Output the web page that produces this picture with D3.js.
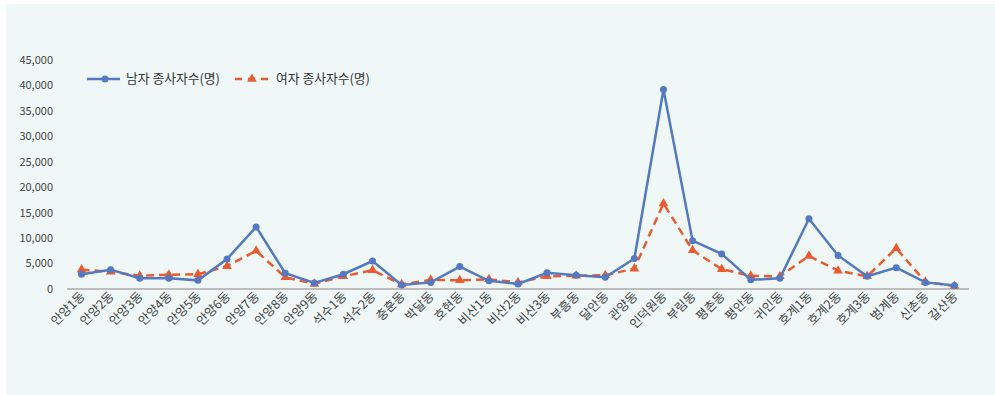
<!DOCTYPE html>
<html>
<head>
<meta charset="utf-8">
<script src="https://cdn.jsdelivr.net/npm/d3@7"></script>
<style>
  html, body { margin: 0; padding: 0; background: #ffffff; }
  svg { display: block; font-family: "Noto Sans CJK KR", "Noto Sans", sans-serif; }
</style>
</head>
<body>
<svg id="chart" width="995" height="395"></svg>
<script>
// 안양시 동별 종사자수 (남/여)
const districts = ["안양1동","안양2동","안양3동","안양4동","안양5동","안양6동","안양7동","안양8동","안양9동",
  "석수1동","석수2동","충훈동","박달동","호현동","비산1동","비산2동","비산3동","부흥동","달안동","관양동",
  "인덕원동","부림동","평촌동","평안동","귀인동","호계1동","호계2동","호계3동","범계동","신촌동","갈산동"];
const maleWorkers = [2900, 3800, 2100, 2100, 1700, 5900, 12200, 3100, 1200,
  2900, 5500, 800, 1300, 4400, 1600, 1000, 3200, 2700, 2300, 6000,
  39200, 9500, 6900, 1800, 2100, 13800, 6600, 2500, 4200, 1300, 700];
const femaleWorkers = [3800, 3400, 2600, 2800, 2900, 4500, 7500, 2300, 1000,
  2500, 3700, 900, 1800, 1700, 1900, 1300, 2500, 2600, 2700, 4000,
  16800, 7600, 3900, 2600, 2500, 6500, 3600, 2500, 8000, 1400, 600];
const yTicks = [0, 5000, 10000, 15000, 20000, 25000, 30000, 35000, 40000, 45000];
const seriesNames = ["남자 종사자수(명)", "여자 종사자수(명)"];

const svg = d3.select("#chart");
const blue = "#5479c2", orange = "#ec5a2f";

svg.append("rect").attr("x", 6).attr("y", 4).attr("width", 989).attr("height", 391).attr("fill", "#eff8f7");

const x = d3.scaleBand().domain(districts).range([67, 969]).padding(0);
const y = d3.scaleLinear().domain([0, 45000]).range([289, 60]);
const cx = d => x(d) + x.bandwidth() / 2;

// y axis labels
const fmt = d3.format(",");
svg.append("g").selectAll("text").data(yTicks).join("text")
  .attr("x", 53).attr("y", d => y(d)).attr("dy", "0.35em")
  .attr("text-anchor", "end").attr("font-size", 11).attr("fill", "#444")
  .text(d => fmt(d));

// baseline
svg.append("line").attr("x1", 67).attr("x2", 969).attr("y1", y(0)).attr("y2", y(0))
  .attr("stroke", "#bdbdbd").attr("stroke-width", 2);

// x labels
svg.append("g").selectAll("text").data(districts).join("text")
  .attr("transform", d => `translate(${cx(d) + 4},${297}) rotate(-45)`)
  .attr("text-anchor", "end").attr("font-size", 12.5).attr("fill", "#444")
  .text(d => d);

const line = d3.line().x((d, i) => cx(districts[i])).y(d => y(d));
const tri = d3.symbol().type(d3.symbolTriangle).size(40);

// female series (dashed, triangles)
svg.append("path").datum(femaleWorkers).attr("d", line)
  .attr("fill", "none").attr("stroke", orange).attr("stroke-width", 2.5)
  .attr("stroke-dasharray", "8,5");
svg.append("g").selectAll("path").data(femaleWorkers).join("path")
  .attr("d", tri).attr("fill", orange)
  .attr("transform", (d, i) => `translate(${cx(districts[i])},${y(d)})`);

// male series (solid, circles)
svg.append("path").datum(maleWorkers).attr("d", line)
  .attr("fill", "none").attr("stroke", blue).attr("stroke-width", 2.5);
svg.append("g").selectAll("circle").data(maleWorkers).join("circle")
  .attr("cx", (d, i) => cx(districts[i])).attr("cy", d => y(d)).attr("r", 3.5)
  .attr("fill", blue);

// legend
const lg = svg.append("g").attr("transform", "translate(0,79)");
lg.append("line").attr("x1", 87).attr("x2", 120).attr("stroke", blue).attr("stroke-width", 2.5);
lg.append("circle").attr("cx", 105).attr("r", 3.5).attr("fill", blue);
lg.append("text").attr("x", 126).attr("dy", "0.35em").attr("font-size", 12.8).attr("fill", "#333").text(seriesNames[0]);
lg.append("line").attr("x1", 235).attr("x2", 268).attr("stroke", orange).attr("stroke-width", 2.5)
  .attr("stroke-dasharray", "7,6");
lg.append("path").attr("d", tri).attr("fill", orange).attr("transform", "translate(252,0)");
lg.append("text").attr("x", 276).attr("dy", "0.35em").attr("font-size", 12.8).attr("fill", "#333").text(seriesNames[1]);
</script>
</body>
</html>
